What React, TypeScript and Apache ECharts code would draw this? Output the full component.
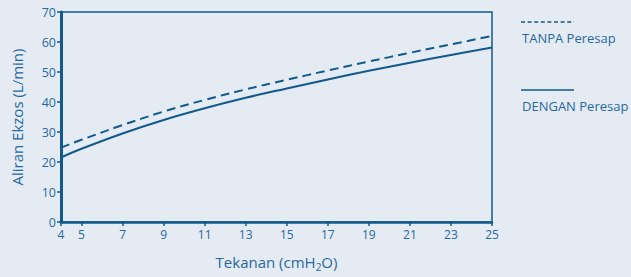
import React, { useEffect, useRef } from "react";
import * as echarts from "echarts";

const pressure = [4, 5, 7, 9, 11, 13, 15, 17, 19, 21, 23, 25];
const tanpaPeresap = [24.8, 27.4, 32.3, 36.8, 40.7, 44.2, 47.4, 50.5, 53.5, 56.4, 59.2, 62.0];
const denganPeresap = [21.5, 24.4, 29.5, 34.0, 37.9, 41.4, 44.5, 47.5, 50.4, 53.1, 55.7, 58.2];
const xTicks = [4, 5, 7, 9, 11, 13, 15, 17, 19, 21, 23, 25];
const legendNames = ["TANPA Peresap", "DENGAN Peresap"];

const LINE = "#135a8c";
const TEXT = "#2868a0";
const BG = "#e4ebf3";
const FONT = "'Open Sans', Lato, sans-serif";

export default function App() {
  const ref = useRef<HTMLDivElement>(null);
  useEffect(() => {
    if (!ref.current) return;
    const chart = echarts.init(ref.current, undefined, { renderer: "svg" });
    chart.setOption({
      animation: false,
      backgroundColor: BG,
      textStyle: { fontFamily: FONT },
      grid: {
        left: 61, right: 139, top: 12, bottom: 51,
        show: true, borderColor: LINE, borderWidth: 1.5, backgroundColor: "transparent",
      },
      xAxis: {
        type: "value", min: 4, max: 25,
        name: "Tekanan (cmH{sub|2}O)", nameLocation: "middle", nameGap: 30,
        nameTextStyle: {
          color: TEXT, fontSize: 15, fontFamily: FONT,
          rich: { sub: { fontSize: 10, color: TEXT, verticalAlign: "bottom", padding: [10, 0, 0, 0], fontFamily: FONT } },
        },
        axisLine: { show: true, lineStyle: { color: LINE, width: 2.5 } },
        axisTick: { show: true, length: 4, lineStyle: { color: LINE, width: 1.5 }, customValues: xTicks },
        axisLabel: { color: TEXT, fontSize: 12, margin: 6, customValues: xTicks, fontFamily: FONT },
        splitLine: { show: false },
      },
      yAxis: {
        type: "value", min: 0, max: 70, interval: 10,
        name: "Aliran Ekzos (L/min)", nameLocation: "middle", nameGap: 37,
        nameTextStyle: { color: TEXT, fontSize: 15, fontFamily: FONT },
        axisLine: { show: true, lineStyle: { color: LINE, width: 3 } },
        axisTick: { show: true, length: 4, lineStyle: { color: LINE, width: 1.5 } },
        axisLabel: { color: TEXT, fontSize: 12.5, margin: 5, fontFamily: FONT },
        splitLine: { show: false },
      },
      series: [
        {
          name: legendNames[0], type: "line", smooth: 0.4, symbol: "none",
          data: pressure.map((p, i) => [p, tanpaPeresap[i]]),
          lineStyle: { color: LINE, width: 2, type: [9, 5] },
        },
        {
          name: legendNames[1], type: "line", smooth: 0.4, symbol: "none",
          data: pressure.map((p, i) => [p, denganPeresap[i]]),
          lineStyle: { color: LINE, width: 2 },
        },
      ],
      graphic: [
        { type: "line", shape: { x1: 521, y1: 22, x2: 574, y2: 22 }, style: { stroke: LINE, lineWidth: 1.3, lineDash: [4, 2.6] } },
        { type: "text", x: 522, y: 38, style: { text: legendNames[0], fill: TEXT, font: `13px ${FONT}`, verticalAlign: "middle" } },
        { type: "line", shape: { x1: 521, y1: 90, x2: 574, y2: 90 }, style: { stroke: LINE, lineWidth: 1.3 } },
        { type: "text", x: 522, y: 106, style: { text: legendNames[1], fill: TEXT, font: `13px ${FONT}`, verticalAlign: "middle" } },
      ],
    });
    return () => chart.dispose();
  }, []);
  return (
    <div style={{ position: "fixed", left: 0, top: 0, width: 631, height: 277, background: BG }}>
      <div ref={ref} style={{ width: 631, height: 277 }} />
    </div>
  );
}
